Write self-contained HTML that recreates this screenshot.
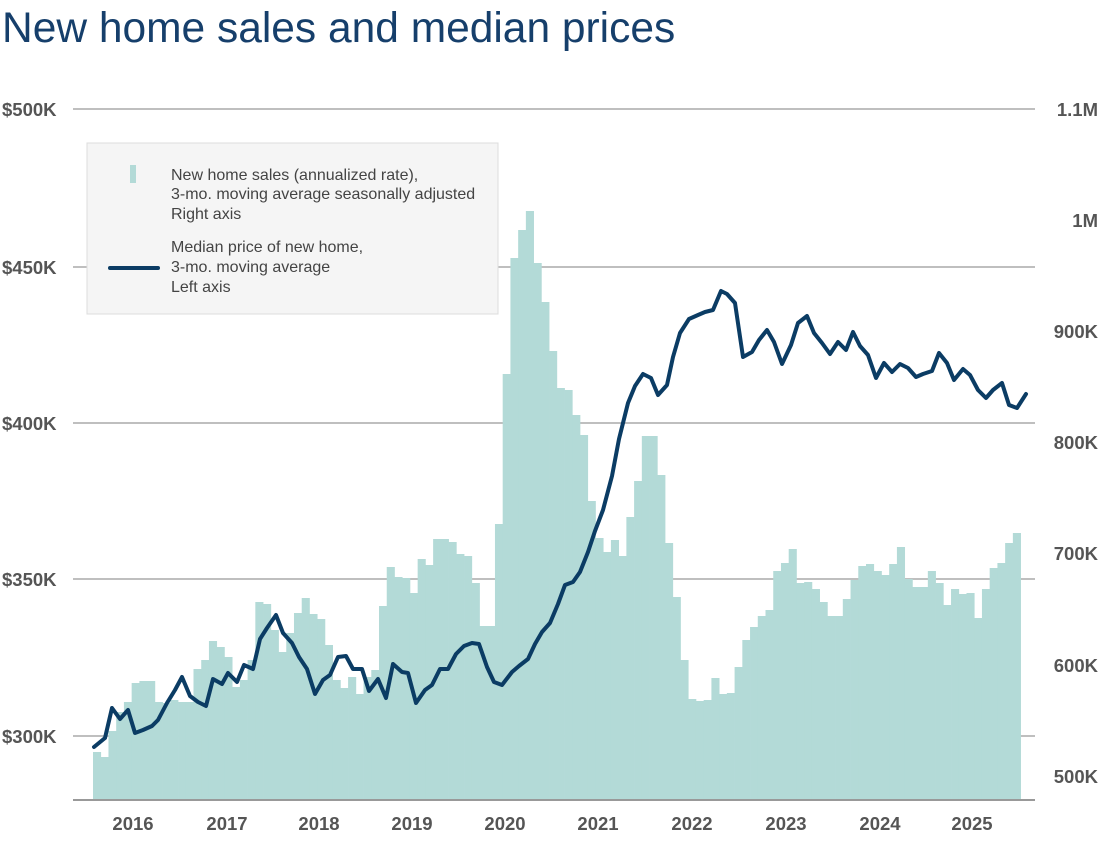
<!DOCTYPE html>
<html><head><meta charset="utf-8"><style>
body{margin:0;background:#fff;width:1100px;height:849px;overflow:hidden}
svg text{font-family:"Liberation Sans",sans-serif}
</style></head><body>
<svg width="1100" height="849" viewBox="0 0 1100 849" xmlns="http://www.w3.org/2000/svg">
<text x="2" y="42" font-size="42.5" fill="#163f6b">New home sales and median prices</text>
<g stroke="#aaa" stroke-width="1.5">
<line x1="73" y1="109" x2="1035" y2="109"/>
<line x1="73" y1="267" x2="1035" y2="267"/>
<line x1="73" y1="423" x2="1035" y2="423"/>
<line x1="73" y1="579" x2="1035" y2="579"/>
<line x1="73" y1="736" x2="1035" y2="736"/>
</g>
<g id="bars" fill="#b3dad7"></g>
<line x1="73" y1="800" x2="1035" y2="800" stroke="#999" stroke-width="2"/>
<polyline id="ln" fill="none" stroke="#0b3c64" stroke-width="4" stroke-linejoin="round" stroke-linecap="round" points=""/>
<g font-size="18.5" font-weight="bold" fill="#555">
<text x="2" y="116">$500K</text><text x="2" y="274">$450K</text><text x="2" y="430">$400K</text><text x="2" y="586">$350K</text><text x="2" y="743">$300K</text>
<g text-anchor="end"><text x="1098" y="116">1.1M</text><text x="1098" y="227">1M</text><text x="1098" y="338">900K</text><text x="1098" y="449">800K</text><text x="1098" y="560">700K</text><text x="1098" y="672">600K</text><text x="1098" y="783">500K</text></g>
<g text-anchor="middle"><text x="133" y="830">2016</text><text x="227" y="830">2017</text><text x="319" y="830">2018</text><text x="412" y="830">2019</text><text x="505" y="830">2020</text><text x="598" y="830">2021</text><text x="692" y="830">2022</text><text x="786" y="830">2023</text><text x="880" y="830">2024</text><text x="972" y="830">2025</text></g>
</g>
<rect x="87" y="143" width="411" height="171" fill="#f5f5f5" stroke="#ddd" stroke-width="1"/>
<rect x="130" y="165" width="6" height="18" fill="#b3dad7"/>
<line x1="110" y1="268" x2="158" y2="268" stroke="#0b3c64" stroke-width="4" stroke-linecap="round"/>
<g font-size="16" fill="#444">
<text x="171" y="180">New home sales (annualized rate),</text>
<text x="171" y="199">3-mo. moving average seasonally adjusted</text>
<text x="171" y="219">Right axis</text>
<text x="171" y="252">Median price of new home,</text>
<text x="171" y="272">3-mo. moving average</text>
<text x="171" y="292">Left axis</text>
</g>
</svg>
<script>
var t=[752,757,731,712,702,683,681,681,702,703,700,702,702,669,660,641,647,657,687,680,660,602,604,630,652,633,613,598,614,619,645,680,688,677,694,677,670,606,567,577,
578,593,559,565,539,539,542,554,556,583,626,626,524,374,258,230,211,263,302,351,388,390,415,435,501,538,552,540,556,517,481,436,436,475,543,597,660,699,701,700,678,694,
693,667,640,627,616,610,571,563,549,583,582,589,602,616,616,599,580,566,564,571,575,564,547,579,587,587,571,583,605,589,594,593,618,589,568,563,543,533];
var g=document.getElementById('bars'),s='';
for(var k=0;k<t.length;k++){var x=93+7.73*k;s+='<rect x="'+x.toFixed(2)+'" y="'+t[k]+'" width="8.1" height="'+(800-t[k])+'"/>';}
g.innerHTML=s;
var p=[[94,747],[105,738],[112,708],[120,719],[128,710],[135,733],[143,730],[152,726],[158,720],[167,703],[175,690],[182,677],[190,696],[198,702],[206,706],[213,679],[222,684],[228,673],[237,682],[244,665],[253,669],[260,639],[267,628],[276,615],[283,633],[292,643],[299,657],[307,669],[315,694],[323,680],[330,675],[338,657],[346,656],[353,669],[362,669],[369,691],[378,679],[386,698],[393,664],[402,672],[408,673],[416,703],[425,690],[432,685],[440,669],[448,669],[456,654],[464,646],[472,643],[479,644],[487,667],[494,682],[502,685],[512,672],[519,666],[528,659],[535,644],[542,632],[550,623],[558,604],[565,585],[573,582],[580,572],[588,552],[595,531],[603,510],[612,476],[619,439],[628,403],[635,386],[643,374],[651,378],[658,395],[667,385],[673,357],[680,333],[689,319],[698,315],[705,312],[713,310],[721,291],[727,294],[735,303],[743,357],[752,352],[759,340],[767,330],[774,342],[782,364],[791,345],[798,323],[807,316],[814,333],[822,343],[830,354],[838,342],[846,350],[853,332],[860,346],[868,355],[876,378],[884,363],[892,372],[900,364],[908,368],[916,377],[923,374],[932,371],[939,353],[947,363],[954,380],[963,369],[970,375],[978,390],[986,398],[993,390],[1002,383],[1009,405],[1017,408],[1026,394]];
document.getElementById('ln').setAttribute('points',p.map(function(a){return a.join(',')}).join(' '));
</script>
</body></html>
